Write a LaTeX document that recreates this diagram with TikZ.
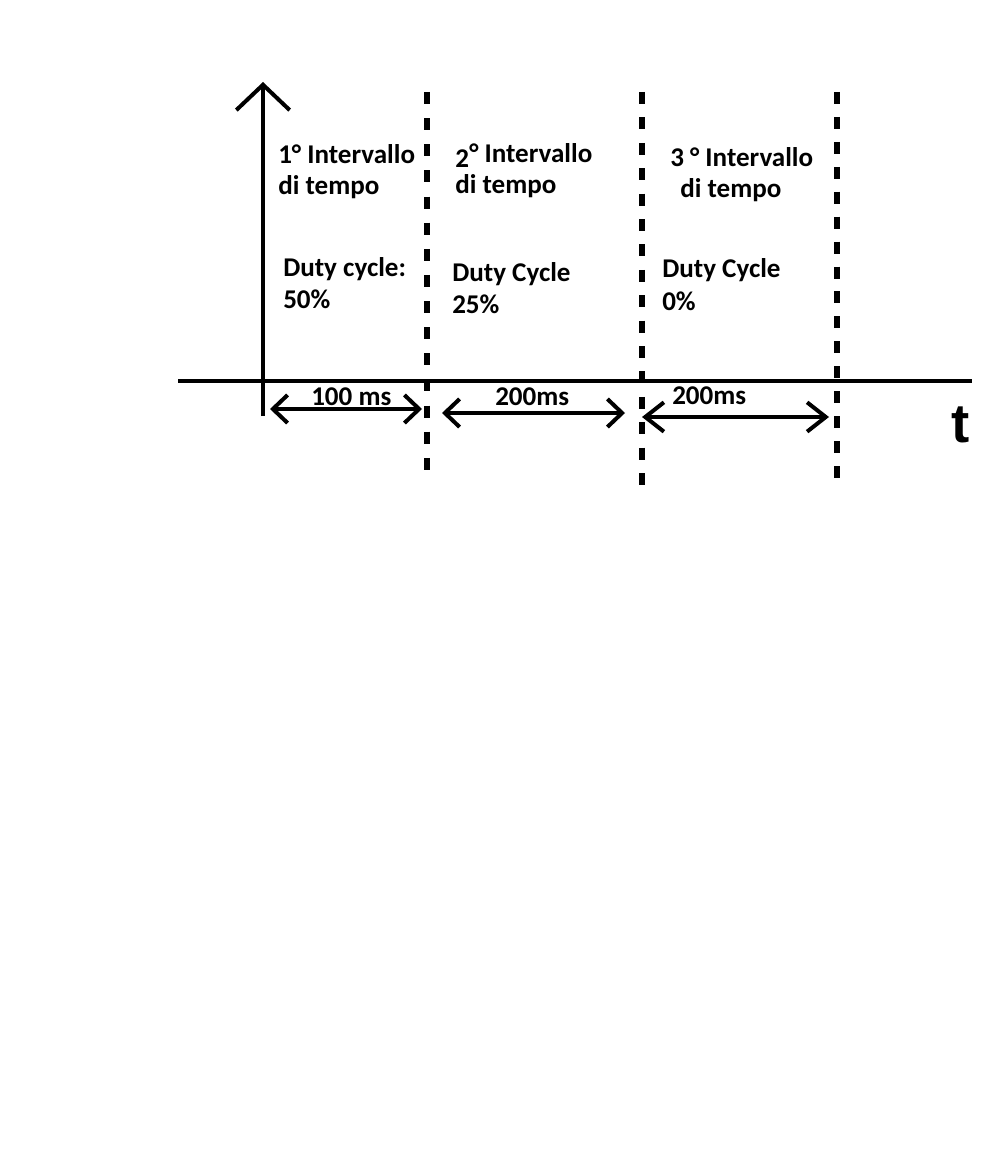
\documentclass[tikz,border=0pt]{standalone}
\usepackage{fontspec}
\setmainfont{Carlito}
\newfontfamily\tfont{Liberation Sans}
\usetikzlibrary{arrows.meta}
\begin{document}
\begin{tikzpicture}[x=0.75pt,y=-0.75pt,
  axis/.style={line width=3pt},
  divline/.style={line width=3.8pt, dash pattern=on 9pt off #1},
  dim/.style={line width=3pt, {Straight Barb[length=11pt,width=21pt]}-{Straight Barb[length=11pt,width=21pt]}},
  lbl/.style={inner sep=0pt, anchor=base west, font=\fontsize{20.3pt}{24pt}\selectfont\bfseries}]
\useasboundingbox (0,0) rectangle (1000,1156);
% axes
\coordinate (xs) at (178,381);
\coordinate (xe) at (972,381);
\coordinate (ys) at (263,416);
\coordinate (ye) at (263,82);
\draw[axis] (xs) -- (xe);
\draw[axis, -{Straight Barb[length=19pt,width=40pt]}] (ys) -- (ye);
% dashed dividers
\coordinate (d1t) at (427,92); \coordinate (d1b) at (427,470);
\coordinate (d2t) at (642,92); \coordinate (d2b) at (642,485);
\coordinate (d3t) at (837,92); \coordinate (d3b) at (837,478);
\draw[divline=10.6pt] (d1t) -- (d1b);
\draw[divline=10.05pt] (d2t) -- (d2b);
\draw[divline=9.7pt] (d3t) -- (d3b);
% dimension arrows
\coordinate (a1l) at (270,409); \coordinate (a1r) at (422,409);
\coordinate (a2l) at (442,413); \coordinate (a2r) at (625,413);
\coordinate (a3l) at (642,417); \coordinate (a3r) at (829,417);
\draw[dim] (a1l) -- (a1r);
\draw[dim] (a2l) -- (a2r);
\draw[dim, {Straight Barb[length=14pt,width=22pt]}-{Straight Barb[length=14pt,width=22pt]}] (a3l) -- (a3r);
\node[lbl] (m1) at (311,405) {100 ms};
\node[lbl] (m2) at (495,405) {200ms};
\node[lbl] (m3) at (672,404) {200ms};
\node[inner sep=0pt, anchor=base west, font=\fontsize{41pt}{41pt}\selectfont\tfont\bfseries] (t) at (951,442) {t};
% interval labels
\node[lbl] (i1a) at (278,163) {1° Intervallo};
\node[lbl] (i1b) at (278,194) {di tempo};
\node[lbl] (i2n) at (455,167) {2};
\node[lbl] (i2a) at (469,162) {° Intervallo};
\node[lbl] (i2b) at (455,193) {di tempo};
\node[lbl] (i3a) at (670,166) {3 ° Intervallo};
\node[lbl] (i3b) at (680,197) {di tempo};
% duty cycles
\node[lbl] (c1a) at (283,276) {Duty cycle:};
\node[lbl] (c1b) at (283,308) {50\%};
\node[lbl] (c2a) at (452,281) {Duty Cycle};
\node[lbl] (c2b) at (452,313) {25\%};
\node[lbl] (c3a) at (662,277) {Duty Cycle};
\node[lbl] (c3b) at (662,310) {0\%};
\end{tikzpicture}
\end{document}
